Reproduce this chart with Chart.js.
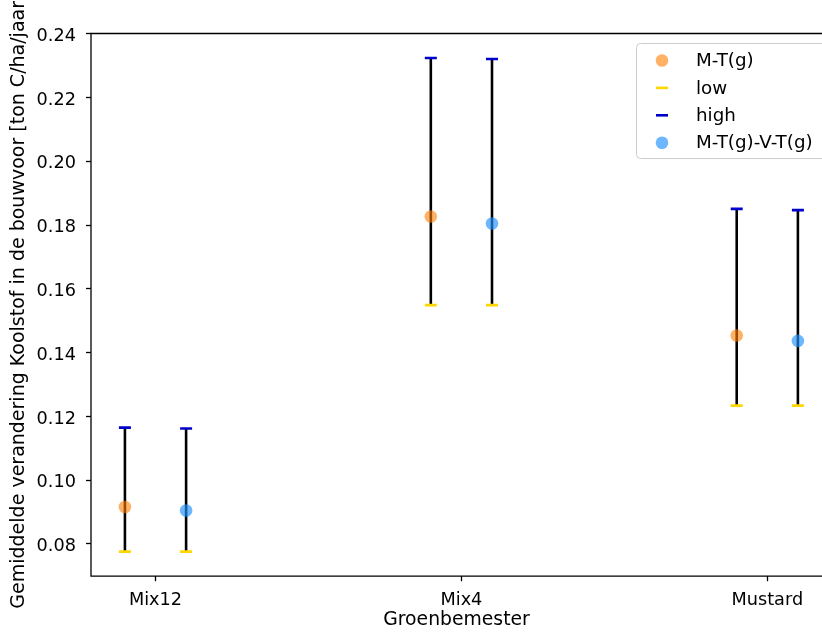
<!DOCTYPE html>
<html>
<head>
<meta charset="utf-8">
<script src="https://cdn.jsdelivr.net/npm/chart.js@4/dist/chart.umd.min.js"></script>
<style>
  html, body { margin: 0; padding: 0; background: #ffffff; }
  #wrap { width: 822px; height: 632px; }
</style>
</head>
<body>
<div id="wrap"><canvas id="c" width="822" height="632"></canvas></div>
<script>
// ---- data ----
const categories = ['Mix12', 'Mix4', 'Mustard'];
const mtg        = [0.0916, 0.1827, 0.1454];   // M-T(g)
const mtgvtg     = [0.0905, 0.1805, 0.1437];   // M-T(g)-V-T(g)
const lowMtg     = [0.0776, 0.1549, 0.1234];
const highMtg    = [0.1165, 0.2324, 0.1851];
const lowMtgvtg  = [0.0776, 0.1549, 0.1234];
const highMtgvtg = [0.1162, 0.2321, 0.1847];
const yTicks     = [0.08, 0.10, 0.12, 0.14, 0.16, 0.18, 0.20, 0.22, 0.24];
const xLabel = 'Groenbemester';
const yLabel = 'Gemiddelde verandering Koolstof in de bouwvoor [ton C/ha/jaar';
const offset = 0.1;

const pts = (vals, dx) => vals.map((v, i) => ({ x: i + dx, y: v }));
const errLines = [];
categories.forEach((c, i) => {
  errLines.push({ x: i - offset, y: lowMtg[i] }, { x: i - offset, y: highMtg[i] }, { x: i - offset, y: null });
  errLines.push({ x: i + offset, y: lowMtgvtg[i] }, { x: i + offset, y: highMtgvtg[i] }, { x: i + offset, y: null });
});

const ORANGE = 'rgba(255,127,0,0.6)';
const BLUE = 'rgba(30,144,255,0.65)';
const GOLD = '#ffd700';
const DBLUE = '#0000cd';

Chart.defaults.font.family = "'DejaVu Sans', sans-serif";
Chart.defaults.font.size = 17.7;
Chart.defaults.color = '#000000';

const frameLegend = {
  id: 'frameLegend',
  afterDraw(chart) {
    const ctx = chart.ctx, a = chart.chartArea;
    ctx.save();
    // spines: left, top, bottom (right spine lies outside the image)
    ctx.strokeStyle = '#000';
    ctx.lineWidth = 1.3;
    ctx.beginPath();
    ctx.moveTo(a.right + 5, a.top);
    ctx.lineTo(a.left, a.top);
    ctx.lineTo(a.left, a.bottom);
    ctx.lineTo(a.right + 5, a.bottom);
    ctx.stroke();
    // legend
    const bx = 636, by = 43, bw = 190, bh = 115, r = 4;
    ctx.fillStyle = 'rgba(255,255,255,0.8)';
    ctx.strokeStyle = '#cccccc';
    ctx.lineWidth = 1;
    ctx.beginPath();
    ctx.roundRect(bx + 0.5, by + 0.5, bw, bh, r);
    ctx.fill();
    ctx.stroke();
    const items = [0, 1, 2, 3].map(i => chart.data.datasets[i]);
    const y0 = 60.5, step = 27.4, mx = 662, tx = 696;
    ctx.font = "18.3px 'DejaVu Sans'";
    ctx.textBaseline = 'middle';
    ctx.textAlign = 'left';
    items.forEach((ds, k) => {
      const y = y0 + k * step;
      if (ds.pointStyle === 'line') {
        ctx.strokeStyle = ds.borderColor;
        ctx.lineWidth = ds.borderWidth;
        ctx.beginPath();
        ctx.moveTo(mx - 6, y);
        ctx.lineTo(mx + 6, y);
        ctx.stroke();
      } else {
        ctx.fillStyle = ds.backgroundColor;
        ctx.beginPath();
        ctx.arc(mx, y, 6.3, 0, Math.PI * 2);
        ctx.fill();
      }
      ctx.fillStyle = '#000';
      ctx.fillText(ds.label, tx, y + 1);
    });
    ctx.restore();
  }
};

new Chart(document.getElementById('c'), {
  type: 'scatter',
  data: {
    datasets: [
      { label: 'M-T(g)', data: pts(mtg, -offset), backgroundColor: ORANGE, borderWidth: 0, pointRadius: 6.3, pointHoverRadius: 6.3 },
      { label: 'low', data: pts(lowMtg, -offset).concat(pts(lowMtgvtg, offset)), pointStyle: 'line', borderColor: GOLD, backgroundColor: GOLD, borderWidth: 2.6, pointRadius: 6, pointHoverRadius: 6 },
      { label: 'high', data: pts(highMtg, -offset).concat(pts(highMtgvtg, offset)), pointStyle: 'line', borderColor: DBLUE, backgroundColor: DBLUE, borderWidth: 2.6, pointRadius: 6, pointHoverRadius: 6 },
      { label: 'M-T(g)-V-T(g)', data: pts(mtgvtg, offset), backgroundColor: BLUE, borderWidth: 0, pointRadius: 6.3, pointHoverRadius: 6.3 },
      { label: 'range', type: 'line', data: errLines, showLine: true, spanGaps: false, borderColor: '#000', borderWidth: 2.6, pointRadius: 0, pointHoverRadius: 0, fill: false }
    ]
  },
  options: {
    responsive: false,
    animation: false,
    events: [],
    layout: { autoPadding: false, padding: { left: 0, right: 0, top: 33.5, bottom: 0 } },
    plugins: { legend: { display: false }, tooltip: { enabled: false } },
    scales: {
      x: {
        type: 'linear',
        min: -0.2109,
        max: 2.1788,
        afterFit(s) { s.height = 55.8; s.paddingLeft = 0; s.paddingRight = 0; },
        afterBuildTicks(s) { s.ticks = categories.map((c, i) => ({ value: i })); },
        ticks: { autoSkip: false, maxRotation: 0, padding: 8.5, callback: v => categories[v] },
        grid: { drawOnChartArea: false, drawTicks: true, tickLength: 5, tickWidth: 1.3, tickColor: '#000' },
        border: { display: false },
        title: { display: true, text: xLabel, font: { size: 18.8 }, padding: { top: 0, bottom: 1 } }
      },
      y: {
        type: 'linear',
        min: 0.0699,
        max: 0.2401,
        afterFit(s) { s.width = 91; s.paddingTop = 0; s.paddingBottom = 0; },
        afterBuildTicks(s) { s.ticks = yTicks.map(v => ({ value: v })); },
        ticks: { autoSkip: false, padding: 10, labelOffset: 2.5, callback: v => v.toFixed(2) },
        grid: { drawOnChartArea: false, drawTicks: true, tickLength: 5, tickWidth: 1.3, tickColor: '#000' },
        border: { display: false },
        title: { display: true, text: yLabel, font: { size: 19 }, padding: { top: 8, bottom: 0 } }
      }
    }
  },
  plugins: [frameLegend]
});
</script>
</body>
</html>
